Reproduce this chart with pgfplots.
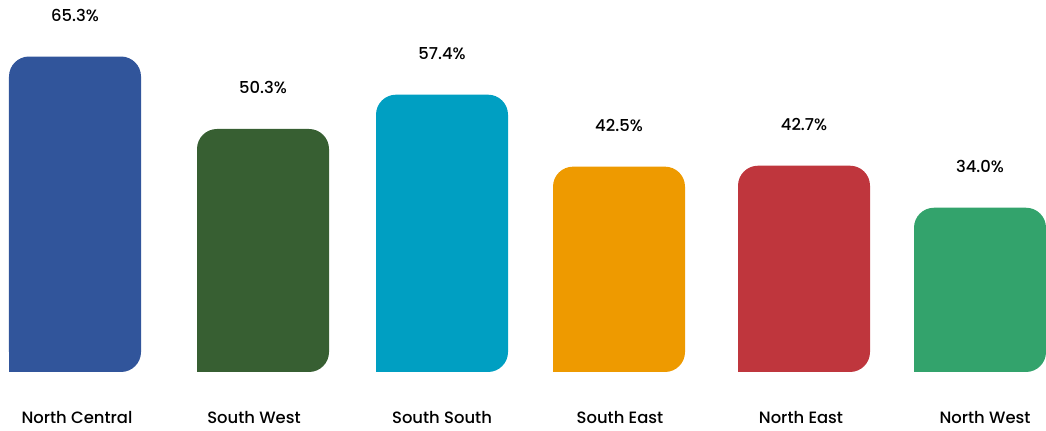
\documentclass[border=0pt]{standalone}
\usepackage{pgfplots}
\pgfplotsset{compat=1.18}
\usepackage{fontspec}
\setmainfont{Poppins}[UprightFont=* Medium]
\definecolor{cNC}{RGB}{49,85,155}
\definecolor{cSW}{RGB}{55,95,50}
\definecolor{cSS}{RGB}{0,159,194}
\definecolor{cSE}{RGB}{238,154,0}
\definecolor{cNE}{RGB}{191,54,61}
\definecolor{cNW}{RGB}{51,163,108}
\newcommand{\regionbar}[3]{%
  \addplot[fill=#1, draw=none, rounded corners=10pt, bar width=66pt, bar shift=0pt,
    nodes near coords={\pgfmathprintnumber[fixed,fixed zerofill,precision=1,assume math mode=true]{\pgfplotspointmeta}\%},
    every node near coord/.append style={font=\fontsize{8.2}{10}\selectfont, text=black, anchor=south, yshift=14pt}]
    coordinates {(#2,#3)};
  \addplot[fill=#1, draw=none, bar width=10pt, bar shift=-28pt] coordinates {(#2,5)};
}
\begin{document}
\begin{tikzpicture}
\begin{axis}[
  scale only axis, width=523pt, height=186pt,
  xmin=0, xmax=1046, ymin=0, ymax=77,
  ybar, clip=false,
  axis lines*=left, axis line style={draw=none},
  tick style={draw=none}, ytick=\empty,
  xtick={77,254,442,620,801,985},
  xticklabels={North Central,South West,South South,South East,North East,North West},
  xticklabel style={font=\fontsize{8.2}{10}\selectfont, anchor=center, yshift=-18.5pt},
]
\regionbar{cNC}{75}{65.3}
\regionbar{cSW}{263}{50.3}
\regionbar{cSS}{442}{57.4}
\regionbar{cSE}{619}{42.5}
\regionbar{cNE}{804}{42.7}
\regionbar{cNW}{980}{34.0}
\end{axis}
\path (current axis.south west) ++(0,-29pt);
\end{tikzpicture}
\end{document}
